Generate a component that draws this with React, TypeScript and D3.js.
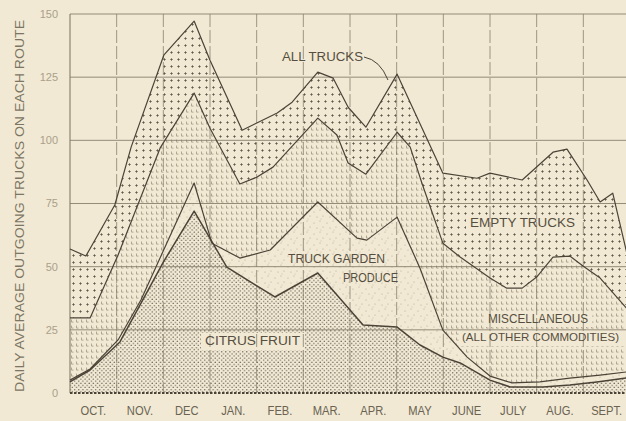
import React from "react";
import * as d3 from "d3";

// Months (band labels), Oct -> Sept
const MONTHS = ["OCT.", "NOV.", "DEC", "JAN.", "FEB.", "MAR.", "APR.", "MAY", "JUNE", "JULY", "AUG.", "SEPT."];
const Y_TICKS = [0, 25, 50, 75, 100, 125, 150];

// [month position (0 = start of Oct, 12 = end of Sept), daily average trucks]
const ALL_TRUCKS: [number, number][] = [
  [0, 57], [0.34, 54.2], [0.96, 74.4], [1.31, 97.3], [2.01, 133.7], [2.66, 147.2],
  [3.0, 131.7], [3.69, 104], [4.44, 110.8], [4.76, 115.1], [5.31, 127], [5.64, 124.6],
  [5.96, 113.1], [6.34, 105.2], [7.01, 126.2], [7.99, 87], [8.72, 85], [9.0, 87],
  [9.69, 84.3], [10.35, 95.3], [10.65, 96.5], [11.08, 84.3], [11.36, 75.6], [11.63, 79.1],
  [12, 50],
];

// Top of "Miscellaneous" (= all loaded trucks); space above to ALL_TRUCKS is empty trucks
const LOADED_TRUCKS: [number, number][] = [
  [0, 29.7], [0.43, 29.7], [1.03, 54.6], [1.93, 96.9], [2.66, 118.7], [3.0, 104.8],
  [3.64, 82.7], [4.0, 85.4], [4.35, 89.4], [5.31, 108.8], [5.72, 102.1], [5.96, 91],
  [6.34, 86.6], [7.01, 103.2], [7.29, 97.3], [7.54, 83.1], [7.99, 59.3], [8.36, 53.8],
  [9.0, 45.5], [9.36, 41.5], [9.69, 41.5], [10.0, 45.9], [10.35, 53.8], [10.71, 54.2],
  [11.0, 50.2], [11.36, 45.5], [12, 32],
];

// Top of "Truck garden produce" (citrus + truck garden)
const GARDEN_TOP: [number, number][] = [
  [0, 5.1], [0.43, 9.5], [1.03, 21], [1.52, 36.8], [2.66, 83.1], [3.04, 59.3],
  [3.64, 53.4], [4.29, 56.6], [5.31, 75.6], [6.15, 61.3], [6.36, 60.5], [7.01, 69.6],
  [7.5, 49.4], [7.99, 24.9], [8.51, 14.2], [9.0, 6.7], [9.47, 4.0], [10.07, 4.4],
  [10.71, 5.9], [11.36, 7.1], [12, 8.5],
];

// Citrus fruit
const CITRUS: [number, number][] = [
  [0, 4.4], [0.43, 9.1], [1.07, 20.2], [2.0, 51.8], [2.66, 72], [3.36, 49.8],
  [4.39, 38], [5.31, 47.5], [6.28, 26.9], [7.01, 26.1], [7.5, 19], [7.99, 14.2],
  [8.36, 11.9], [9.0, 5.1], [9.43, 2.4], [10.13, 2.4], [10.71, 3.2], [11.29, 4.4],
  [12, 6.1],
];

const W = 626;
const H = 421;
const PAPER = "#f1e9d4";
const INK = "#4b4337";
const GRID = "#857c69";

const x = d3.scaleLinear().domain([0, 12]).range([70, 630]);
const y = d3.scaleLinear().domain([0, 150]).range([393, 14]);

const area = d3
  .area<[number, number]>()
  .x((d) => x(d[0]))
  .y0(y(0))
  .y1((d) => y(d[1]));
const line = d3
  .line<[number, number]>()
  .x((d) => x(d[0]))
  .y((d) => y(d[1]));

const FONT = "'Liberation Sans', Arial, sans-serif";

export default function App() {
  const bandW = x(1) - x(0);
  return (
    <svg
      width={W}
      height={H}
      viewBox={`0 0 ${W} ${H}`}
      style={{ position: "absolute", left: 0, top: 0, background: PAPER }}
    >
      <defs>
        <pattern id="pEmpty" width={7} height={7} patternUnits="userSpaceOnUse">
          <rect width={7} height={7} fill={PAPER} />
          <path d="M2.3,3.5h2.4M3.5,2.3v2.4" stroke="#5f5749" strokeWidth={0.9} />
        </pattern>
        <pattern id="pMisc" width={5} height={6} patternUnits="userSpaceOnUse">
          <rect width={5} height={6} fill={PAPER} />
          <path d="M1.5,1.5v2.6h2" stroke="#a0967f" strokeWidth={0.8} fill="none" />
        </pattern>
        <pattern id="pGarden" width={13} height={11} patternUnits="userSpaceOnUse">
          <rect width={13} height={11} fill={PAPER} />
          <circle cx={2} cy={3} r={0.5} fill="#a99f89" />
          <circle cx={8} cy={1} r={0.5} fill="#a99f89" />
          <circle cx={11} cy={7} r={0.5} fill="#a99f89" />
          <circle cx={5} cy={8} r={0.5} fill="#a99f89" />
          <circle cx={9} cy={10} r={0.45} fill="#a99f89" />
        </pattern>
        <pattern id="pCitrus" width={4.2} height={4.2} patternUnits="userSpaceOnUse">
          <rect width={4.2} height={4.2} fill={PAPER} />
          <circle cx={1.05} cy={1.05} r={0.72} fill="#6a6253" />
          <circle cx={3.15} cy={3.15} r={0.72} fill="#6a6253" />
        </pattern>
      </defs>

      <rect width={W} height={H} fill={PAPER} />

      {/* stacked fills */}
      <path d={area(ALL_TRUCKS) ?? ""} fill="url(#pEmpty)" />
      <path d={area(LOADED_TRUCKS) ?? ""} fill="url(#pMisc)" />
      <path d={area(GARDEN_TOP) ?? ""} fill="url(#pGarden)" />
      <path d={area(CITRUS) ?? ""} fill="url(#pCitrus)" />

      {/* cleared label boxes */}
      <rect x={466} y={215} width={113} height={15} fill={PAPER} />
      <rect x={484} y={311} width={108} height={16} fill={PAPER} />
      <rect x={459} y={330} width={170} height={16} fill={PAPER} />
      <rect x={201} y={333} width={104} height={17} fill={PAPER} />

      {/* grid */}
      {Y_TICKS.filter((t) => t > 0).map((t) => (
        <line
          key={"h" + t}
          x1={x(0)}
          x2={x(12)}
          y1={y(t)}
          y2={y(t)}
          stroke={GRID}
          strokeWidth={t === 150 ? 1.2 : 1}
          opacity={0.85}
        />
      ))}
      {d3.range(1, 12).map((m) => (
        <line
          key={"v" + m}
          x1={x(m)}
          x2={x(m)}
          y1={y(150)}
          y2={y(0)}
          stroke={GRID}
          strokeWidth={0.9}
          strokeDasharray="13 3"
          opacity={0.85}
        />
      ))}
      <line x1={x(0)} x2={x(0)} y1={y(150)} y2={y(0)} stroke={GRID} strokeWidth={1.1} />
      <line
        x1={x(0)}
        x2={x(12)}
        y1={y(0)}
        y2={y(0)}
        stroke={INK}
        strokeWidth={2}
        strokeDasharray="2.5 1.5"
      />

      {/* series outlines */}
      {[ALL_TRUCKS, LOADED_TRUCKS, GARDEN_TOP, CITRUS].map((s, i) => (
        <path
          key={"l" + i}
          d={line(s) ?? ""}
          fill="none"
          stroke={INK}
          strokeWidth={i === 3 ? 1.5 : 1.2}
          strokeLinejoin="round"
        />
      ))}

      {/* y tick labels */}
      {Y_TICKS.map((t) => (
        <text
          key={"yt" + t}
          x={58}
          y={y(t)}
          dy="0.35em"
          textAnchor="end"
          fontFamily={FONT}
          fontSize={11}
          fill="#aaa08a"
        >
          {t}
        </text>
      ))}

      {/* month labels */}
      {MONTHS.map((mName, i) => (
        <text
          key={mName}
          transform={`translate(${x(i) + bandW / 2},${410}) scale(0.86,1)`}
          dy="0.35em"
          textAnchor="middle"
          fontFamily={FONT}
          fontSize={13}
          fill="#6a6352"
        >
          {mName}
        </text>
      ))}

      {/* y axis title */}
      <text
        transform="translate(19,206) rotate(-90)"
        dy="0.35em"
        textAnchor="middle"
        fontFamily={FONT}
        fontSize={13}
        fill="#7c7563"
        textLength={372}
        lengthAdjust="spacingAndGlyphs"
      >
        DAILY AVERAGE OUTGOING TRUCKS ON EACH ROUTE
      </text>

      {/* annotations */}
      <g fontFamily={FONT} fontSize={12.5} fill="#564e40">
        <text x={282} y={57} dy="0.35em" textLength={81} lengthAdjust="spacingAndGlyphs">
          ALL TRUCKS
        </text>
        <path d="M364,57 Q380,60 388,80" fill="none" stroke={INK} strokeWidth={1} />
        <text x={470} y={222.5} dy="0.35em" textLength={105} lengthAdjust="spacingAndGlyphs">
          EMPTY TRUCKS
        </text>
        <text x={288} y={259} dy="0.35em" textLength={97} lengthAdjust="spacingAndGlyphs">
          TRUCK GARDEN
        </text>
        <text x={343} y={277.5} dy="0.35em" textLength={55} lengthAdjust="spacingAndGlyphs">
          PRODUCE
        </text>
        <text x={205} y={341} dy="0.35em" textLength={95} lengthAdjust="spacingAndGlyphs">
          CITRUS FRUIT
        </text>
        <text x={488} y={319} dy="0.35em" textLength={100} lengthAdjust="spacingAndGlyphs">
          MISCELLANEOUS
        </text>
        <text
          x={462}
          y={337.5}
          dy="0.35em"
          fontSize={10.5}
          textLength={157}
          lengthAdjust="spacingAndGlyphs"
        >
          (ALL OTHER COMMODITIES)
        </text>
      </g>
    </svg>
  );
}
